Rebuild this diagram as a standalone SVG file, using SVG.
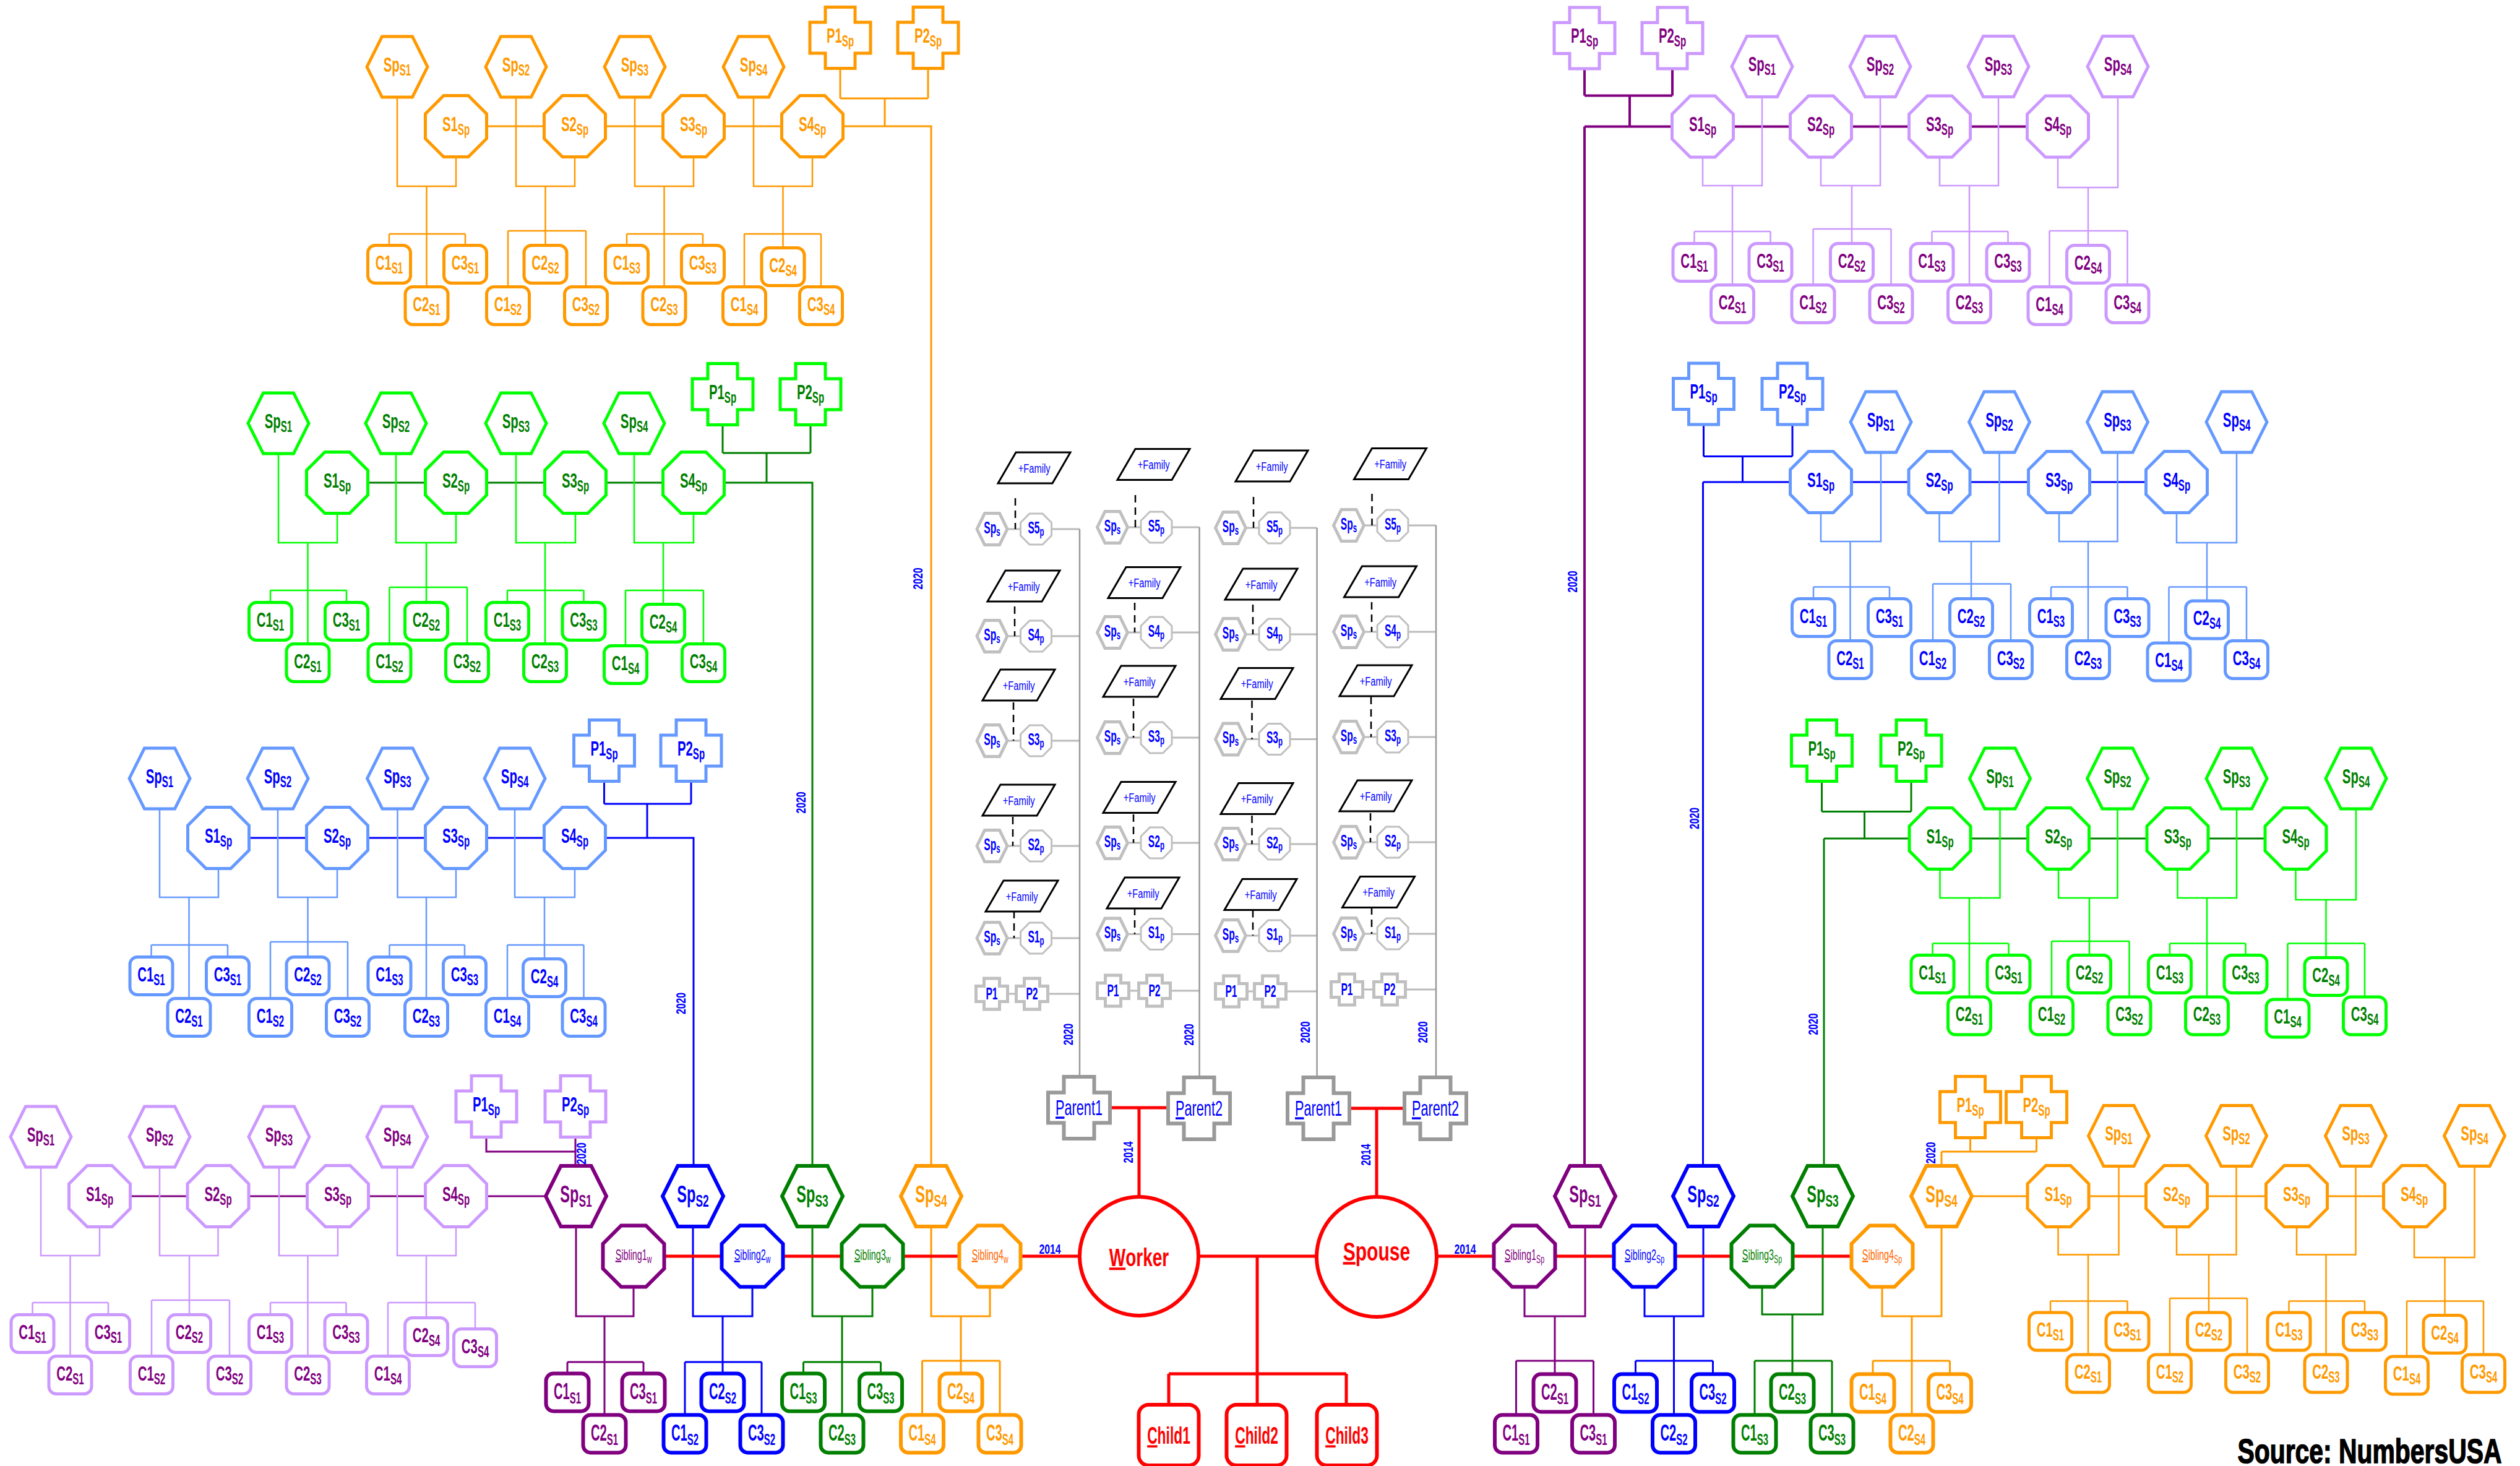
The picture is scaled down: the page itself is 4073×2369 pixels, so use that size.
<svg xmlns="http://www.w3.org/2000/svg" width="4073" height="2369" viewBox="0 0 4073 2369">
<style>
text{font-family:'Liberation Sans',Arial,sans-serif}
.k{font-weight:bold;text-anchor:middle;transform-box:fill-box;transform-origin:center;transform:scaleX(.62)}
.k1{font-size:34px;transform:scaleX(.6)}
.k2{font-size:38px}
.k3{font-size:36px;transform:scaleX(.56)}
.s{font-size:.74em}
.ks{font-size:24px;font-weight:normal;transform:scaleX(.6)}
.km{font-size:27px;transform:scaleX(.58)}
.kf{font-size:21px;font-weight:normal;transform:scaleX(.7)}
.kw{font-size:40px;transform:scaleX(.7)}
.kp{font-size:35px;font-weight:normal}
.kc{font-size:38px;transform:scaleX(.6)}
.src{font-size:56px;transform:scaleX(.73);stroke:#000;stroke-width:1.5}
.yr{font-weight:bold;font-size:22px;fill:#0000ff;text-anchor:middle}
.u{text-decoration:underline}
use{fill:#fff;stroke-width:5}
path{fill:none}
.o{stroke:#ff9900}.lp{stroke:#cc99ff}.dp{stroke:#800080}.lb{stroke:#6699ff}.db{stroke:#0000ff}.lg{stroke:#00ff00}.dg{stroke:#008000}.r{stroke:#ff0000}.g{stroke:#999999}.gl{stroke:#c0c0c0}.gm{stroke:#bbbbbb}.bk{stroke:#000}
.to{fill:#ff9900}.tp{fill:#800080}.tb{fill:#0000ff}.tg{fill:#008000}.tr{fill:#ff0000}.tq{fill:#ff6600}.tk{fill:#000}
.w2{stroke-width:2.5}.w3{stroke-width:3}.w4{stroke-width:4}.w5{stroke-width:5}.b{stroke-width:6}
.ds{stroke-dasharray:12 8}
</style>
<defs>
<polygon id="hx" points="-49,0 -24.5,-49 24.5,-49 49,0 24.5,49 -24.5,49"/>
<polygon id="oc" points="-20,-49.5 20,-49.5 49.5,-20 49.5,20 20,49.5 -20,49.5 -49.5,20 -49.5,-20"/>
<polygon id="cr" points="-24,-49.5 24,-49.5 24,-25 49,-25 49,25 24,25 24,49.5 -24,49.5 -24,25 -49,25 -49,-25 -24,-25"/>
<rect id="cb" x="-34.5" y="-30.5" width="69" height="61" rx="12"/>
<rect id="kb" x="-48.5" y="-49" width="97" height="98" rx="16"/>
<polygon id="cp" points="-24.5,-50 24.5,-50 24.5,-24.5 50,-24.5 50,24.5 24.5,24.5 24.5,50 -24.5,50 -24.5,24.5 -50,24.5 -50,-24.5 -24.5,-24.5"/>
<polygon id="hs" points="-24.5,0 -12,-25.5 12,-25.5 24.5,0 12,25.5 -12,25.5"/>
<polygon id="os" points="-10.5,-25 10.5,-25 25,-10.5 25,10.5 10.5,25 -10.5,25 -25,10.5 -25,-10.5"/>
<polygon id="cs" points="-12.5,-25 12.5,-25 12.5,-12.5 25.5,-12.5 25.5,12.5 12.5,12.5 12.5,25 -12.5,25 -12.5,12.5 -25.5,12.5 -25.5,-12.5 -12.5,-12.5"/>
<polygon id="pg" points="0,0 88,0 59,50 -29,50"/>
</defs>
<rect width="4073" height="2369" fill="#fff"/>
<g id="connectors">
<path class="o w3" d="M737,204H1505V1884M1358,110.5V159M1500,110.5V159M1358,159H1500M1430,159V204"/>
<path class="o w2" d="M642,157V301H737V254M689.5,301V463.5M629,378H752M629,378V396.5M752,378V396.5M834,157V301H929V254M881.5,301V396.5M821,373H947M821,373V463.5M947,373V463.5M1026,157V301H1121V254M1073.5,301V463.5M1013,378H1136M1013,378V396.5M1136,378V396.5M1218,157V301H1313V254M1265.5,301V400.5M1203,378H1327M1203,378V463.5M1327,378V463.5"/>
<path class="dg w3" d="M545,780H1313V1884M1168,686.5V732M1310,686.5V732M1168,732H1310M1239,732V780"/>
<path class="lg w2" d="M450,733V877H545V829.5M497.5,877V1040.5M437,954H560M437,954V973.5M560,954V973.5M640,733V877H737V829.5M689,877V973.5M629.5,949H755M629.5,949V1040.5M755,949V1040.5M834,733V877H930V829.5M881,877V1040.5M820,954H943.5M820,954V973.5M943.5,954V973.5M1025,733V877H1121V829.5M1072,877V976.5M1011,954H1137M1011,954V1043.5M1137,954V1040.5"/>
<path class="db w3" d="M353,1354H1121V1884M976.5,1262.5V1299M1117,1262.5V1299M976.5,1299H1117M1046,1299V1354"/>
<path class="lb w2" d="M258,1307V1450H353V1403.5M305.5,1450V1613.5M244.5,1527H368M244.5,1527V1546.5M368,1527V1546.5M449,1307V1450H545V1403.5M497.5,1450V1546.5M437,1522H562M437,1522V1613.5M562,1522V1613.5M642.5,1307V1450H737V1403.5M689,1450V1613.5M629.5,1527H751M629.5,1527V1546.5M751,1527V1546.5M832,1307V1450H929V1403.5M880,1450V1549.5M820,1527H943.5M820,1527V1613.5M943.5,1527V1613.5"/>
<path class="dp w3" d="M161,1933H882M786,1837.5V1861H930M930,1837.5V1884"/>
<path class="lp w2" d="M66,1886V2029H161V1982.5M113.5,2029V2191.5M52.5,2105H175M52.5,2105V2124.5M175,2105V2124.5M258,1886V2029H352.5V1982.5M306,2029V2124.5M245,2101H371M245,2101V2191.5M371,2101V2191.5M451,1886V2029H546V1982.5M497.5,2029V2191.5M437,2105H559.5M437,2105V2124.5M559.5,2105V2124.5M642,1886V2029H737V1982.5M689,2029V2129.5M627,2105H768M627,2105V2191.5M768,2105V2147.5"/>
<path class="dp w3" d="M931,1982V2127H1024V2079.5M977,2127V2286.5M917,2201H1040M917,2201V2219.5M1040,2201V2219.5"/>
<path class="db w3" d="M1120,1982V2127H1216V2079.5M1168,2127V2219.5M1107,2201H1231M1107,2201V2286.5M1231,2201V2286.5"/>
<path class="dg w3" d="M1313,1982V2127H1410V2079.5M1361,2127V2286.5M1298.5,2201H1423.5M1298.5,2201V2219.5M1423.5,2201V2219.5"/>
<path class="o w3" d="M1505,1982V2127H1600V2079.5M1553,2127V2219.5M1490.5,2199H1616M1490.5,2199V2286.5M1616,2199V2286.5"/>
<path class="gm w3" d="M1628,855H1745M1628,1028H1745M1628,1197H1745M1628,1367H1745M1628,1516H1745M1628.5,1606H1745M1822.5,852H1938.6M1822.5,1022H1938.6M1822.5,1192H1938.6M1822.5,1362H1938.6M1822.5,1509.5H1938.6M1824.5,1601H1938.6M2013.5,853H2128.6M2013.5,1025H2128.6M2013.5,1194.5H2128.6M2013.5,1364H2128.6M2013.5,1512H2128.6M2015.5,1602H2128.6M2204.5,849H2321M2204.5,1021H2321M2204.5,1191H2321M2204.5,1361H2321M2204.5,1509H2321M2202.5,1599H2321"/>
<path class="g w2" d="M1745,855V1741M1938.6,852V1741M2128.6,853V1741M2321,849V1741"/>
<path class="bk w2 ds" d="M1641,805V855M1640,980V1028M1638,1135V1197M1637,1320V1367M1639,1472V1516M1835,800V852M1834,974V1022M1832,1129V1192M1832,1316V1362M1834,1467V1509.5M2026,803V853M2025,977V1025M2023.5,1132V1194.5M2023.5,1318V1364M2025,1470.5V1512M2217.5,798V849M2217,973V1021M2216,1126V1191M2215,1314V1361M2217,1466V1509"/>
<path class="dp w4" d="M2561,204.5H3326M2561,204.5V1884M2561,111V154.5M2703,111V154.5M2561,154.5H2703M2634,154.5V204.5"/>
<path class="lp w2" d="M2848,156.5V300H2752V254M2800,300V460.5M2738.5,374H2861.5M2738.5,374V393.5M2861.5,374V393.5M3039,156.5V300H2943V254M2993,300V393.5M2930.5,370H3056.5M2930.5,370V460.5M3056.5,370V460.5M3230,156.5V300H3135V254M3183,300V460.5M3122.5,374H3245.5M3122.5,374V393.5M3245.5,374V393.5M3423,156.5V303H3326V254M3375,303V396.5M3312.5,373H3438.5M3312.5,373V463.5M3438.5,373V460.5"/>
<path class="db w3" d="M2752.5,779H3518M2752.5,779V1884M2753.5,686V737.5M2897,686V737.5M2753.5,737.5H2897M2816.5,737.5V779"/>
<path class="lb w2" d="M3040,731V875H2943V828.5M2990.5,875V1035.5M2931,948.5H3054M2931,948.5V967.5M3054,948.5V967.5M3231.5,731V875H3134.5V828.5M3186,875V967.5M3124,943.5H3250M3124,943.5V1035.5M3250,943.5V1035.5M3422.5,731V875H3328V828.5M3375,875V1035.5M3315,948.5H3438.5M3315,948.5V967.5M3438.5,948.5V967.5M3615,731V877H3518V828.5M3567,877V971M3505.5,948.5H3631M3505.5,948.5V1039M3631,948.5V1035.5"/>
<path class="dg w3" d="M2948,1355H3710.5M2948,1355V1884M2944.5,1262.5V1311.5M3089,1262.5V1311.5M2944.5,1311.5H3089M3013.5,1311.5V1355"/>
<path class="lg w2" d="M3232.5,1306.5V1451H3135.5V1404M3183,1451V1611M3123.5,1524.5H3246.5M3123.5,1524.5V1543.5M3246.5,1524.5V1543.5M3422.5,1306.5V1451H3327V1404M3377,1451V1543.5M3316,1521H3441.5M3316,1521V1611M3441.5,1521V1611M3615,1306.5V1451H3519.5V1404M3567,1451V1611M3507,1524.5H3629.5M3507,1524.5V1543.5M3629.5,1524.5V1543.5M3808,1306.5V1454H3710.5V1404M3759.5,1454V1547.5M3697.5,1524.5H3822M3697.5,1524.5V1615M3822,1524.5V1611"/>
<path class="o w3" d="M3186,1933H3902M3184.5,1838.5V1861M3291.5,1838.5V1861M3138,1861H3291.5M3138,1861V1884"/>
<path class="o w2" d="M3424.5,1884.5V2027.5H3326.5V1982.5M3375,2027.5V2189M3314,2102.5H3438.5M3314,2102.5V2121M3438.5,2102.5V2121M3614.5,1884.5V2027.5H3518V1982.5M3570,2027.5V2121M3507,2098H3632M3507,2098V2189M3632,2098V2189M3807.5,1884.5V2027.5H3712V1982.5M3759.5,2027.5V2189M3699.5,2102.5H3822M3699.5,2102.5V2121M3822,2102.5V2121M3999.5,1884.5V2032H3902V1982.5M3951.5,2032V2125.5M3890,2102.5H4014M3890,2102.5V2192M4014,2102.5V2189"/>
<path class="dp w3" d="M2562,1982V2127H2464V2079.5M2513,2127V2220.5M2450.5,2199H2575.5M2450.5,2199V2286.5M2575.5,2199V2286.5"/>
<path class="db w3" d="M2753,1982V2127H2658V2079.5M2705.5,2127V2286.5M2643.5,2199H2768.5M2643.5,2199V2220.5M2768.5,2199V2220.5"/>
<path class="dg w3" d="M2946,1982V2124H2848V2079.5M2897,2124V2220.5M2836,2199H2961M2836,2199V2286.5M2961,2199V2286.5"/>
<path class="o w3" d="M3138,1982V2127H3042V2079.5M3090,2127V2286.5M3027,2199H3151.5M3027,2199V2220.5M3151.5,2199V2220.5"/>
<path class="r w5" d="M1024,2030H1745M1937,2030H2128M2322,2030H3042M2032,2030V2220M1889,2220H2176M1889,2220V2270M2032,2220V2270M2176,2220V2270M1794,1790H1888M1841,1790V1932M2181,1791H2270M2225,1791V1934"/>
<text class="yr" transform="translate(1483,935) rotate(-90) scale(.72,1)" y="8">2020</text>
<text class="yr" transform="translate(1293.5,1297) rotate(-90) scale(.72,1)" y="8">2020</text>
<text class="yr" transform="translate(1100,1621.5) rotate(-90) scale(.72,1)" y="8">2020</text>
<text class="yr" transform="translate(939,1864) rotate(-90) scale(.72,1)" y="8">2020</text>
<text class="yr" transform="translate(2541,940) rotate(-90) scale(.72,1)" y="8">2020</text>
<text class="yr" transform="translate(2738,1322.5) rotate(-90) scale(.72,1)" y="8">2020</text>
<text class="yr" transform="translate(2929.5,1655) rotate(-90) scale(.72,1)" y="8">2020</text>
<text class="yr" transform="translate(3119.5,1863) rotate(-90) scale(.72,1)" y="8">2020</text>
<text class="yr" transform="translate(1725.5,1671.5) rotate(-90) scale(.72,1)" y="8">2020</text>
<text class="yr" transform="translate(1921,1672) rotate(-90) scale(.72,1)" y="8">2020</text>
<text class="yr" transform="translate(2109,1668) rotate(-90) scale(.72,1)" y="8">2020</text>
<text class="yr" transform="translate(2298.5,1668) rotate(-90) scale(.72,1)" y="8">2020</text>
<text class="yr" transform="translate(1822.5,1862) rotate(-90) scale(.72,1)" y="8">2014</text>
<text class="yr" transform="translate(2207,1866) rotate(-90) scale(.72,1)" y="8">2014</text>
<text class="yr" transform="translate(1697,2026) scale(.72,1)">2014</text>
<text class="yr" transform="translate(2368,2026) scale(.72,1)">2014</text>
</g>
<g id="left-orange">
<g id="lo-s1"><use href="#oc" x="737" y="204" class="o"/><text x="737" y="212" class="k k1 to">S1<tspan class="s" dy="6">Sp</tspan></text></g>
<g id="lo-s2"><use href="#oc" x="929" y="204" class="o"/><text x="929" y="212" class="k k1 to">S2<tspan class="s" dy="6">Sp</tspan></text></g>
<g id="lo-s3"><use href="#oc" x="1121" y="204" class="o"/><text x="1121" y="212" class="k k1 to">S3<tspan class="s" dy="6">Sp</tspan></text></g>
<g id="lo-s4"><use href="#oc" x="1313" y="204" class="o"/><text x="1313" y="212" class="k k1 to">S4<tspan class="s" dy="6">Sp</tspan></text></g>
<g id="lo-sp1"><use href="#hx" x="642" y="108" class="o"/><text x="642" y="116" class="k k1 to">Sp<tspan class="s" dy="6">S1</tspan></text></g>
<g id="lo-sp2"><use href="#hx" x="834" y="108" class="o"/><text x="834" y="116" class="k k1 to">Sp<tspan class="s" dy="6">S2</tspan></text></g>
<g id="lo-sp3"><use href="#hx" x="1026" y="108" class="o"/><text x="1026" y="116" class="k k1 to">Sp<tspan class="s" dy="6">S3</tspan></text></g>
<g id="lo-sp4"><use href="#hx" x="1218" y="108" class="o"/><text x="1218" y="116" class="k k1 to">Sp<tspan class="s" dy="6">S4</tspan></text></g>
<g id="lo-p1"><use href="#cr" x="1358" y="61" class="o"/><text x="1358" y="69" class="k k1 to">P1<tspan class="s" dy="6">Sp</tspan></text></g>
<g id="lo-p2"><use href="#cr" x="1500" y="61" class="o"/><text x="1500" y="69" class="k k1 to">P2<tspan class="s" dy="6">Sp</tspan></text></g>
<g id="lo-c1s1"><use href="#cb" x="629" y="427" class="o"/><text x="629" y="436" class="k k1 to">C1<tspan class="s" dy="6">S1</tspan></text></g>
<g id="lo-c2s1"><use href="#cb" x="689.5" y="494" class="o"/><text x="689.5" y="503" class="k k1 to">C2<tspan class="s" dy="6">S1</tspan></text></g>
<g id="lo-c3s1"><use href="#cb" x="752" y="427" class="o"/><text x="752" y="436" class="k k1 to">C3<tspan class="s" dy="6">S1</tspan></text></g>
<g id="lo-c1s2"><use href="#cb" x="821" y="494" class="o"/><text x="821" y="503" class="k k1 to">C1<tspan class="s" dy="6">S2</tspan></text></g>
<g id="lo-c2s2"><use href="#cb" x="881.5" y="427" class="o"/><text x="881.5" y="436" class="k k1 to">C2<tspan class="s" dy="6">S2</tspan></text></g>
<g id="lo-c3s2"><use href="#cb" x="947" y="494" class="o"/><text x="947" y="503" class="k k1 to">C3<tspan class="s" dy="6">S2</tspan></text></g>
<g id="lo-c1s3"><use href="#cb" x="1013" y="427" class="o"/><text x="1013" y="436" class="k k1 to">C1<tspan class="s" dy="6">S3</tspan></text></g>
<g id="lo-c2s3"><use href="#cb" x="1073.5" y="494" class="o"/><text x="1073.5" y="503" class="k k1 to">C2<tspan class="s" dy="6">S3</tspan></text></g>
<g id="lo-c3s3"><use href="#cb" x="1136" y="427" class="o"/><text x="1136" y="436" class="k k1 to">C3<tspan class="s" dy="6">S3</tspan></text></g>
<g id="lo-c1s4"><use href="#cb" x="1203" y="494" class="o"/><text x="1203" y="503" class="k k1 to">C1<tspan class="s" dy="6">S4</tspan></text></g>
<g id="lo-c2s4"><use href="#cb" x="1265.5" y="431" class="o"/><text x="1265.5" y="440" class="k k1 to">C2<tspan class="s" dy="6">S4</tspan></text></g>
<g id="lo-c3s4"><use href="#cb" x="1327" y="494" class="o"/><text x="1327" y="503" class="k k1 to">C3<tspan class="s" dy="6">S4</tspan></text></g>
</g>
<g id="left-green">
<g id="lg-s1"><use href="#oc" x="545" y="780" class="lg"/><text x="545" y="788" class="k k1 tg">S1<tspan class="s" dy="6">Sp</tspan></text></g>
<g id="lg-s2"><use href="#oc" x="737" y="780" class="lg"/><text x="737" y="788" class="k k1 tg">S2<tspan class="s" dy="6">Sp</tspan></text></g>
<g id="lg-s3"><use href="#oc" x="930" y="780" class="lg"/><text x="930" y="788" class="k k1 tg">S3<tspan class="s" dy="6">Sp</tspan></text></g>
<g id="lg-s4"><use href="#oc" x="1121" y="780" class="lg"/><text x="1121" y="788" class="k k1 tg">S4<tspan class="s" dy="6">Sp</tspan></text></g>
<g id="lg-sp1"><use href="#hx" x="450" y="684" class="lg"/><text x="450" y="692" class="k k1 tg">Sp<tspan class="s" dy="6">S1</tspan></text></g>
<g id="lg-sp2"><use href="#hx" x="640" y="684" class="lg"/><text x="640" y="692" class="k k1 tg">Sp<tspan class="s" dy="6">S2</tspan></text></g>
<g id="lg-sp3"><use href="#hx" x="834" y="684" class="lg"/><text x="834" y="692" class="k k1 tg">Sp<tspan class="s" dy="6">S3</tspan></text></g>
<g id="lg-sp4"><use href="#hx" x="1025" y="684" class="lg"/><text x="1025" y="692" class="k k1 tg">Sp<tspan class="s" dy="6">S4</tspan></text></g>
<g id="lg-p1"><use href="#cr" x="1168" y="637" class="lg"/><text x="1168" y="645" class="k k1 tg">P1<tspan class="s" dy="6">Sp</tspan></text></g>
<g id="lg-p2"><use href="#cr" x="1310" y="637" class="lg"/><text x="1310" y="645" class="k k1 tg">P2<tspan class="s" dy="6">Sp</tspan></text></g>
<g id="lg-c1s1"><use href="#cb" x="437" y="1004" class="lg"/><text x="437" y="1013" class="k k1 tg">C1<tspan class="s" dy="6">S1</tspan></text></g>
<g id="lg-c2s1"><use href="#cb" x="497.5" y="1071" class="lg"/><text x="497.5" y="1080" class="k k1 tg">C2<tspan class="s" dy="6">S1</tspan></text></g>
<g id="lg-c3s1"><use href="#cb" x="560" y="1004" class="lg"/><text x="560" y="1013" class="k k1 tg">C3<tspan class="s" dy="6">S1</tspan></text></g>
<g id="lg-c1s2"><use href="#cb" x="629.5" y="1071" class="lg"/><text x="629.5" y="1080" class="k k1 tg">C1<tspan class="s" dy="6">S2</tspan></text></g>
<g id="lg-c2s2"><use href="#cb" x="689" y="1004" class="lg"/><text x="689" y="1013" class="k k1 tg">C2<tspan class="s" dy="6">S2</tspan></text></g>
<g id="lg-c3s2"><use href="#cb" x="755" y="1071" class="lg"/><text x="755" y="1080" class="k k1 tg">C3<tspan class="s" dy="6">S2</tspan></text></g>
<g id="lg-c1s3"><use href="#cb" x="820" y="1004" class="lg"/><text x="820" y="1013" class="k k1 tg">C1<tspan class="s" dy="6">S3</tspan></text></g>
<g id="lg-c2s3"><use href="#cb" x="881" y="1071" class="lg"/><text x="881" y="1080" class="k k1 tg">C2<tspan class="s" dy="6">S3</tspan></text></g>
<g id="lg-c3s3"><use href="#cb" x="943.5" y="1004" class="lg"/><text x="943.5" y="1013" class="k k1 tg">C3<tspan class="s" dy="6">S3</tspan></text></g>
<g id="lg-c1s4"><use href="#cb" x="1011" y="1074" class="lg"/><text x="1011" y="1083" class="k k1 tg">C1<tspan class="s" dy="6">S4</tspan></text></g>
<g id="lg-c2s4"><use href="#cb" x="1072" y="1007" class="lg"/><text x="1072" y="1016" class="k k1 tg">C2<tspan class="s" dy="6">S4</tspan></text></g>
<g id="lg-c3s4"><use href="#cb" x="1137" y="1071" class="lg"/><text x="1137" y="1080" class="k k1 tg">C3<tspan class="s" dy="6">S4</tspan></text></g>
</g>
<g id="left-blue">
<g id="lb-s1"><use href="#oc" x="353" y="1354" class="lb"/><text x="353" y="1362" class="k k1 tb">S1<tspan class="s" dy="6">Sp</tspan></text></g>
<g id="lb-s2"><use href="#oc" x="545" y="1354" class="lb"/><text x="545" y="1362" class="k k1 tb">S2<tspan class="s" dy="6">Sp</tspan></text></g>
<g id="lb-s3"><use href="#oc" x="737" y="1354" class="lb"/><text x="737" y="1362" class="k k1 tb">S3<tspan class="s" dy="6">Sp</tspan></text></g>
<g id="lb-s4"><use href="#oc" x="929" y="1354" class="lb"/><text x="929" y="1362" class="k k1 tb">S4<tspan class="s" dy="6">Sp</tspan></text></g>
<g id="lb-sp1"><use href="#hx" x="258" y="1258" class="lb"/><text x="258" y="1266" class="k k1 tb">Sp<tspan class="s" dy="6">S1</tspan></text></g>
<g id="lb-sp2"><use href="#hx" x="449" y="1258" class="lb"/><text x="449" y="1266" class="k k1 tb">Sp<tspan class="s" dy="6">S2</tspan></text></g>
<g id="lb-sp3"><use href="#hx" x="642.5" y="1258" class="lb"/><text x="642.5" y="1266" class="k k1 tb">Sp<tspan class="s" dy="6">S3</tspan></text></g>
<g id="lb-sp4"><use href="#hx" x="832" y="1258" class="lb"/><text x="832" y="1266" class="k k1 tb">Sp<tspan class="s" dy="6">S4</tspan></text></g>
<g id="lb-p1"><use href="#cr" x="976.5" y="1213" class="lb"/><text x="976.5" y="1221" class="k k1 tb">P1<tspan class="s" dy="6">Sp</tspan></text></g>
<g id="lb-p2"><use href="#cr" x="1117" y="1213" class="lb"/><text x="1117" y="1221" class="k k1 tb">P2<tspan class="s" dy="6">Sp</tspan></text></g>
<g id="lb-c1s1"><use href="#cb" x="244.5" y="1577" class="lb"/><text x="244.5" y="1586" class="k k1 tb">C1<tspan class="s" dy="6">S1</tspan></text></g>
<g id="lb-c2s1"><use href="#cb" x="305.5" y="1644" class="lb"/><text x="305.5" y="1653" class="k k1 tb">C2<tspan class="s" dy="6">S1</tspan></text></g>
<g id="lb-c3s1"><use href="#cb" x="368" y="1577" class="lb"/><text x="368" y="1586" class="k k1 tb">C3<tspan class="s" dy="6">S1</tspan></text></g>
<g id="lb-c1s2"><use href="#cb" x="437" y="1644" class="lb"/><text x="437" y="1653" class="k k1 tb">C1<tspan class="s" dy="6">S2</tspan></text></g>
<g id="lb-c2s2"><use href="#cb" x="497.5" y="1577" class="lb"/><text x="497.5" y="1586" class="k k1 tb">C2<tspan class="s" dy="6">S2</tspan></text></g>
<g id="lb-c3s2"><use href="#cb" x="562" y="1644" class="lb"/><text x="562" y="1653" class="k k1 tb">C3<tspan class="s" dy="6">S2</tspan></text></g>
<g id="lb-c1s3"><use href="#cb" x="629.5" y="1577" class="lb"/><text x="629.5" y="1586" class="k k1 tb">C1<tspan class="s" dy="6">S3</tspan></text></g>
<g id="lb-c2s3"><use href="#cb" x="689" y="1644" class="lb"/><text x="689" y="1653" class="k k1 tb">C2<tspan class="s" dy="6">S3</tspan></text></g>
<g id="lb-c3s3"><use href="#cb" x="751" y="1577" class="lb"/><text x="751" y="1586" class="k k1 tb">C3<tspan class="s" dy="6">S3</tspan></text></g>
<g id="lb-c1s4"><use href="#cb" x="820" y="1644" class="lb"/><text x="820" y="1653" class="k k1 tb">C1<tspan class="s" dy="6">S4</tspan></text></g>
<g id="lb-c2s4"><use href="#cb" x="880" y="1580" class="lb"/><text x="880" y="1589" class="k k1 tb">C2<tspan class="s" dy="6">S4</tspan></text></g>
<g id="lb-c3s4"><use href="#cb" x="943.5" y="1644" class="lb"/><text x="943.5" y="1653" class="k k1 tb">C3<tspan class="s" dy="6">S4</tspan></text></g>
</g>
<g id="left-purple">
<g id="lp-s1"><use href="#oc" x="161" y="1933" class="lp"/><text x="161" y="1941" class="k k1 tp">S1<tspan class="s" dy="6">Sp</tspan></text></g>
<g id="lp-s2"><use href="#oc" x="352.5" y="1933" class="lp"/><text x="352.5" y="1941" class="k k1 tp">S2<tspan class="s" dy="6">Sp</tspan></text></g>
<g id="lp-s3"><use href="#oc" x="546" y="1933" class="lp"/><text x="546" y="1941" class="k k1 tp">S3<tspan class="s" dy="6">Sp</tspan></text></g>
<g id="lp-s4"><use href="#oc" x="737" y="1933" class="lp"/><text x="737" y="1941" class="k k1 tp">S4<tspan class="s" dy="6">Sp</tspan></text></g>
<g id="lp-sp1"><use href="#hx" x="66" y="1837" class="lp"/><text x="66" y="1845" class="k k1 tp">Sp<tspan class="s" dy="6">S1</tspan></text></g>
<g id="lp-sp2"><use href="#hx" x="258" y="1837" class="lp"/><text x="258" y="1845" class="k k1 tp">Sp<tspan class="s" dy="6">S2</tspan></text></g>
<g id="lp-sp3"><use href="#hx" x="451" y="1837" class="lp"/><text x="451" y="1845" class="k k1 tp">Sp<tspan class="s" dy="6">S3</tspan></text></g>
<g id="lp-sp4"><use href="#hx" x="642" y="1837" class="lp"/><text x="642" y="1845" class="k k1 tp">Sp<tspan class="s" dy="6">S4</tspan></text></g>
<g id="lp-p1"><use href="#cr" x="786" y="1788" class="lp"/><text x="786" y="1796" class="k k1 tb">P1<tspan class="s" dy="6">Sp</tspan></text></g>
<g id="lp-p2"><use href="#cr" x="930" y="1788" class="lp"/><text x="930" y="1796" class="k k1 tb">P2<tspan class="s" dy="6">Sp</tspan></text></g>
<g id="lp-c1s1"><use href="#cb" x="52.5" y="2155" class="lp"/><text x="52.5" y="2164" class="k k1 tp">C1<tspan class="s" dy="6">S1</tspan></text></g>
<g id="lp-c2s1"><use href="#cb" x="113.5" y="2222" class="lp"/><text x="113.5" y="2231" class="k k1 tp">C2<tspan class="s" dy="6">S1</tspan></text></g>
<g id="lp-c3s1"><use href="#cb" x="175" y="2155" class="lp"/><text x="175" y="2164" class="k k1 tp">C3<tspan class="s" dy="6">S1</tspan></text></g>
<g id="lp-c1s2"><use href="#cb" x="245" y="2222" class="lp"/><text x="245" y="2231" class="k k1 tp">C1<tspan class="s" dy="6">S2</tspan></text></g>
<g id="lp-c2s2"><use href="#cb" x="306" y="2155" class="lp"/><text x="306" y="2164" class="k k1 tp">C2<tspan class="s" dy="6">S2</tspan></text></g>
<g id="lp-c3s2"><use href="#cb" x="371" y="2222" class="lp"/><text x="371" y="2231" class="k k1 tp">C3<tspan class="s" dy="6">S2</tspan></text></g>
<g id="lp-c1s3"><use href="#cb" x="437" y="2155" class="lp"/><text x="437" y="2164" class="k k1 tp">C1<tspan class="s" dy="6">S3</tspan></text></g>
<g id="lp-c2s3"><use href="#cb" x="497.5" y="2222" class="lp"/><text x="497.5" y="2231" class="k k1 tp">C2<tspan class="s" dy="6">S3</tspan></text></g>
<g id="lp-c3s3"><use href="#cb" x="559.5" y="2155" class="lp"/><text x="559.5" y="2164" class="k k1 tp">C3<tspan class="s" dy="6">S3</tspan></text></g>
<g id="lp-c1s4"><use href="#cb" x="627" y="2222" class="lp"/><text x="627" y="2231" class="k k1 tp">C1<tspan class="s" dy="6">S4</tspan></text></g>
<g id="lp-c2s4"><use href="#cb" x="689" y="2160" class="lp"/><text x="689" y="2169" class="k k1 tp">C2<tspan class="s" dy="6">S4</tspan></text></g>
<g id="lp-c3s4"><use href="#cb" x="768" y="2178" class="lp"/><text x="768" y="2187" class="k k1 tp">C3<tspan class="s" dy="6">S4</tspan></text></g>
</g>
<g id="worker-siblings">
<g id="w-sps1"><use href="#hx" x="931" y="1933" class="dp b"/><text x="931" y="1943" class="k k2 tp">Sp<tspan class="s" dy="7">S1</tspan></text></g>
<g id="w-sps2"><use href="#hx" x="1120" y="1933" class="db b"/><text x="1120" y="1943" class="k k2 tb">Sp<tspan class="s" dy="7">S2</tspan></text></g>
<g id="w-sps3"><use href="#hx" x="1313" y="1933" class="dg b"/><text x="1313" y="1943" class="k k2 tg">Sp<tspan class="s" dy="7">S3</tspan></text></g>
<g id="w-sps4"><use href="#hx" x="1505" y="1933" class="o b"/><text x="1505" y="1943" class="k k2 to">Sp<tspan class="s" dy="7">S4</tspan></text></g>
<g id="sibling1w"><use href="#oc" x="1024" y="2030" class="dp b"/><text x="1024" y="2036" class="k ks tp"><tspan class="u">S</tspan>ibling1<tspan class="s" dy="5">w</tspan></text></g>
<g id="sibling2w"><use href="#oc" x="1216" y="2030" class="db b"/><text x="1216" y="2036" class="k ks tb"><tspan class="u">S</tspan>ibling2<tspan class="s" dy="5">w</tspan></text></g>
<g id="sibling3w"><use href="#oc" x="1410" y="2030" class="dg b"/><text x="1410" y="2036" class="k ks tg"><tspan class="u">S</tspan>ibling3<tspan class="s" dy="5">w</tspan></text></g>
<g id="sibling4w"><use href="#oc" x="1600" y="2030" class="o b"/><text x="1600" y="2036" class="k ks tq"><tspan class="u">S</tspan>ibling4<tspan class="s" dy="5">w</tspan></text></g>
<g id="w-c1s1"><use href="#cb" x="917" y="2250" class="dp b"/><text x="917" y="2261" class="k k3 tp">C1<tspan class="s" dy="7">S1</tspan></text></g>
<g id="w-c2s1"><use href="#cb" x="977" y="2317" class="dp b"/><text x="977" y="2328" class="k k3 tp">C2<tspan class="s" dy="7">S1</tspan></text></g>
<g id="w-c3s1"><use href="#cb" x="1040" y="2250" class="dp b"/><text x="1040" y="2261" class="k k3 tp">C3<tspan class="s" dy="7">S1</tspan></text></g>
<g id="w-c1s2"><use href="#cb" x="1107" y="2317" class="db b"/><text x="1107" y="2328" class="k k3 tb">C1<tspan class="s" dy="7">S2</tspan></text></g>
<g id="w-c2s2"><use href="#cb" x="1168" y="2250" class="db b"/><text x="1168" y="2261" class="k k3 tb">C2<tspan class="s" dy="7">S2</tspan></text></g>
<g id="w-c3s2"><use href="#cb" x="1231" y="2317" class="db b"/><text x="1231" y="2328" class="k k3 tb">C3<tspan class="s" dy="7">S2</tspan></text></g>
<g id="w-c1s3"><use href="#cb" x="1298.5" y="2250" class="dg b"/><text x="1298.5" y="2261" class="k k3 tg">C1<tspan class="s" dy="7">S3</tspan></text></g>
<g id="w-c2s3"><use href="#cb" x="1361" y="2317" class="dg b"/><text x="1361" y="2328" class="k k3 tg">C2<tspan class="s" dy="7">S3</tspan></text></g>
<g id="w-c3s3"><use href="#cb" x="1423.5" y="2250" class="dg b"/><text x="1423.5" y="2261" class="k k3 tg">C3<tspan class="s" dy="7">S3</tspan></text></g>
<g id="w-c1s4"><use href="#cb" x="1490.5" y="2317" class="o b"/><text x="1490.5" y="2328" class="k k3 to">C1<tspan class="s" dy="7">S4</tspan></text></g>
<g id="w-c2s4"><use href="#cb" x="1553" y="2250" class="o b"/><text x="1553" y="2261" class="k k3 to">C2<tspan class="s" dy="7">S4</tspan></text></g>
<g id="w-c3s4"><use href="#cb" x="1616" y="2317" class="o b"/><text x="1616" y="2328" class="k k3 to">C3<tspan class="s" dy="7">S4</tspan></text></g>
</g>
<g id="core">
<g id="worker"><circle cx="1841" cy="2030" r="96" class="r" fill="#fff" stroke-width="6"/><text x="1841" y="2046" class="k kw tr"><tspan class="u">W</tspan>orker</text></g>
<g id="spouse"><circle cx="2225" cy="2031" r="97" class="r" fill="#fff" stroke-width="6"/><text x="2225" y="2037" class="k kw tr" style="font-size:43px"><tspan class="u">S</tspan>pouse</text></g>
<g id="child1"><use href="#kb" x="1889" y="2319" class="r b"/><text x="1889" y="2333" class="k kc tr"><tspan class="u">C</tspan>hild1</text></g>
<g id="child2"><use href="#kb" x="2031" y="2319" class="r b"/><text x="2031" y="2333" class="k kc tr"><tspan class="u">C</tspan>hild2</text></g>
<g id="child3"><use href="#kb" x="2177" y="2319" class="r b"/><text x="2177" y="2333" class="k kc tr"><tspan class="u">C</tspan>hild3</text></g>
<g id="w-parent1"><use href="#cp" x="1744" y="1790" class="g b"/><text x="1744" y="1802" class="k kp tb"><tspan class="u">P</tspan>arent1</text></g>
<g id="w-parent2"><use href="#cp" x="1938" y="1791" class="g b"/><text x="1938" y="1803" class="k kp tb"><tspan class="u">P</tspan>arent2</text></g>
<g id="s-parent1"><use href="#cp" x="2131" y="1791" class="g b"/><text x="2131" y="1803" class="k kp tb"><tspan class="u">P</tspan>arent1</text></g>
<g id="s-parent2"><use href="#cp" x="2320" y="1791" class="g b"/><text x="2320" y="1803" class="k kp tb"><tspan class="u">P</tspan>arent2</text></g>
</g>
<g id="parents-families">
<g id="m1-f5"><use href="#pg" x="1642" y="731" class="bk w3"/><text x="1671.5" y="764" class="k kf tb">+Family</text></g>
<g id="m1-f4"><use href="#pg" x="1625" y="922" class="bk w3"/><text x="1654.5" y="955" class="k kf tb">+Family</text></g>
<g id="m1-f3"><use href="#pg" x="1617" y="1082" class="bk w3"/><text x="1646.5" y="1115" class="k kf tb">+Family</text></g>
<g id="m1-f2"><use href="#pg" x="1617" y="1268" class="bk w3"/><text x="1646.5" y="1301" class="k kf tb">+Family</text></g>
<g id="m1-f1"><use href="#pg" x="1622" y="1423" class="bk w3"/><text x="1651.5" y="1456" class="k kf tb">+Family</text></g>
<g id="m1-sp5"><use href="#hs" x="1603.5" y="855" class="gl"/><text x="1603.5" y="862" class="k km tb">Sp<tspan class="s" dy="4">s</tspan></text></g>
<g id="m1-sp4"><use href="#hs" x="1603.5" y="1028" class="gl"/><text x="1603.5" y="1035" class="k km tb">Sp<tspan class="s" dy="4">s</tspan></text></g>
<g id="m1-sp3"><use href="#hs" x="1603.5" y="1197" class="gl"/><text x="1603.5" y="1204" class="k km tb">Sp<tspan class="s" dy="4">s</tspan></text></g>
<g id="m1-sp2"><use href="#hs" x="1603.5" y="1367" class="gl"/><text x="1603.5" y="1374" class="k km tb">Sp<tspan class="s" dy="4">s</tspan></text></g>
<g id="m1-sp1"><use href="#hs" x="1603.5" y="1516" class="gl"/><text x="1603.5" y="1523" class="k km tb">Sp<tspan class="s" dy="4">s</tspan></text></g>
<g id="m1-s5"><use href="#os" x="1674.5" y="855" class="gl w3"/><text x="1674.5" y="862" class="k km tb">S5<tspan class="s" dy="4">p</tspan></text></g>
<g id="m1-s4"><use href="#os" x="1674.5" y="1028" class="gl w3"/><text x="1674.5" y="1035" class="k km tb">S4<tspan class="s" dy="4">p</tspan></text></g>
<g id="m1-s3"><use href="#os" x="1674.5" y="1197" class="gl w3"/><text x="1674.5" y="1204" class="k km tb">S3<tspan class="s" dy="4">p</tspan></text></g>
<g id="m1-s2"><use href="#os" x="1674.5" y="1367" class="gl w3"/><text x="1674.5" y="1374" class="k km tb">S2<tspan class="s" dy="4">p</tspan></text></g>
<g id="m1-s1"><use href="#os" x="1674.5" y="1516" class="gl w3"/><text x="1674.5" y="1523" class="k km tb">S1<tspan class="s" dy="4">p</tspan></text></g>
<g id="m1-p1"><use href="#cs" x="1603" y="1606" class="gl"/><text x="1603" y="1615" class="k km tb">P1</text></g>
<g id="m1-p2"><use href="#cs" x="1668" y="1606" class="gl"/><text x="1668" y="1615" class="k km tb">P2</text></g>
<g id="m2-f5"><use href="#pg" x="1835" y="725.5" class="bk w3"/><text x="1864.5" y="758.5" class="k kf tb">+Family</text></g>
<g id="m2-f4"><use href="#pg" x="1820" y="916.5" class="bk w3"/><text x="1849.5" y="949.5" class="k kf tb">+Family</text></g>
<g id="m2-f3"><use href="#pg" x="1812" y="1076" class="bk w3"/><text x="1841.5" y="1109" class="k kf tb">+Family</text></g>
<g id="m2-f2"><use href="#pg" x="1812" y="1263.5" class="bk w3"/><text x="1841.5" y="1296.5" class="k kf tb">+Family</text></g>
<g id="m2-f1"><use href="#pg" x="1818" y="1418" class="bk w3"/><text x="1847.5" y="1451" class="k kf tb">+Family</text></g>
<g id="m2-sp5"><use href="#hs" x="1798" y="852" class="gl"/><text x="1798" y="859" class="k km tb">Sp<tspan class="s" dy="4">s</tspan></text></g>
<g id="m2-sp4"><use href="#hs" x="1798" y="1022" class="gl"/><text x="1798" y="1029" class="k km tb">Sp<tspan class="s" dy="4">s</tspan></text></g>
<g id="m2-sp3"><use href="#hs" x="1798" y="1192" class="gl"/><text x="1798" y="1199" class="k km tb">Sp<tspan class="s" dy="4">s</tspan></text></g>
<g id="m2-sp2"><use href="#hs" x="1798" y="1362" class="gl"/><text x="1798" y="1369" class="k km tb">Sp<tspan class="s" dy="4">s</tspan></text></g>
<g id="m2-sp1"><use href="#hs" x="1798" y="1509.5" class="gl"/><text x="1798" y="1516.5" class="k km tb">Sp<tspan class="s" dy="4">s</tspan></text></g>
<g id="m2-s5"><use href="#os" x="1869" y="852" class="gl w3"/><text x="1869" y="859" class="k km tb">S5<tspan class="s" dy="4">p</tspan></text></g>
<g id="m2-s4"><use href="#os" x="1869" y="1022" class="gl w3"/><text x="1869" y="1029" class="k km tb">S4<tspan class="s" dy="4">p</tspan></text></g>
<g id="m2-s3"><use href="#os" x="1869" y="1192" class="gl w3"/><text x="1869" y="1199" class="k km tb">S3<tspan class="s" dy="4">p</tspan></text></g>
<g id="m2-s2"><use href="#os" x="1869" y="1362" class="gl w3"/><text x="1869" y="1369" class="k km tb">S2<tspan class="s" dy="4">p</tspan></text></g>
<g id="m2-s1"><use href="#os" x="1869" y="1509.5" class="gl w3"/><text x="1869" y="1516.5" class="k km tb">S1<tspan class="s" dy="4">p</tspan></text></g>
<g id="m2-p1"><use href="#cs" x="1799" y="1601" class="gl"/><text x="1799" y="1610" class="k km tb">P1</text></g>
<g id="m2-p2"><use href="#cs" x="1866" y="1601" class="gl"/><text x="1866" y="1610" class="k km tb">P2</text></g>
<g id="m3-f5"><use href="#pg" x="2026" y="728" class="bk w3"/><text x="2055.5" y="761" class="k kf tb">+Family</text></g>
<g id="m3-f4"><use href="#pg" x="2009" y="919" class="bk w3"/><text x="2038.5" y="952" class="k kf tb">+Family</text></g>
<g id="m3-f3"><use href="#pg" x="2002" y="1079.5" class="bk w3"/><text x="2031.5" y="1112.5" class="k kf tb">+Family</text></g>
<g id="m3-f2"><use href="#pg" x="2002" y="1265.5" class="bk w3"/><text x="2031.5" y="1298.5" class="k kf tb">+Family</text></g>
<g id="m3-f1"><use href="#pg" x="2008" y="1420.5" class="bk w3"/><text x="2037.5" y="1453.5" class="k kf tb">+Family</text></g>
<g id="m3-sp5"><use href="#hs" x="1989" y="853" class="gl"/><text x="1989" y="860" class="k km tb">Sp<tspan class="s" dy="4">s</tspan></text></g>
<g id="m3-sp4"><use href="#hs" x="1989" y="1025" class="gl"/><text x="1989" y="1032" class="k km tb">Sp<tspan class="s" dy="4">s</tspan></text></g>
<g id="m3-sp3"><use href="#hs" x="1989" y="1194.5" class="gl"/><text x="1989" y="1201.5" class="k km tb">Sp<tspan class="s" dy="4">s</tspan></text></g>
<g id="m3-sp2"><use href="#hs" x="1989" y="1364" class="gl"/><text x="1989" y="1371" class="k km tb">Sp<tspan class="s" dy="4">s</tspan></text></g>
<g id="m3-sp1"><use href="#hs" x="1989" y="1512" class="gl"/><text x="1989" y="1519" class="k km tb">Sp<tspan class="s" dy="4">s</tspan></text></g>
<g id="m3-s5"><use href="#os" x="2060" y="853" class="gl w3"/><text x="2060" y="860" class="k km tb">S5<tspan class="s" dy="4">p</tspan></text></g>
<g id="m3-s4"><use href="#os" x="2060" y="1025" class="gl w3"/><text x="2060" y="1032" class="k km tb">S4<tspan class="s" dy="4">p</tspan></text></g>
<g id="m3-s3"><use href="#os" x="2060" y="1194.5" class="gl w3"/><text x="2060" y="1201.5" class="k km tb">S3<tspan class="s" dy="4">p</tspan></text></g>
<g id="m3-s2"><use href="#os" x="2060" y="1364" class="gl w3"/><text x="2060" y="1371" class="k km tb">S2<tspan class="s" dy="4">p</tspan></text></g>
<g id="m3-s1"><use href="#os" x="2060" y="1512" class="gl w3"/><text x="2060" y="1519" class="k km tb">S1<tspan class="s" dy="4">p</tspan></text></g>
<g id="m3-p1"><use href="#cs" x="1990" y="1602" class="gl"/><text x="1990" y="1611" class="k km tb">P1</text></g>
<g id="m3-p2"><use href="#cs" x="2053" y="1602" class="gl"/><text x="2053" y="1611" class="k km tb">P2</text></g>
<g id="m4-f5"><use href="#pg" x="2217.5" y="724.5" class="bk w3"/><text x="2247" y="757.5" class="k kf tb">+Family</text></g>
<g id="m4-f4"><use href="#pg" x="2201.5" y="915" class="bk w3"/><text x="2231" y="948" class="k kf tb">+Family</text></g>
<g id="m4-f3"><use href="#pg" x="2194" y="1075" class="bk w3"/><text x="2223.5" y="1108" class="k kf tb">+Family</text></g>
<g id="m4-f2"><use href="#pg" x="2194" y="1261" class="bk w3"/><text x="2223.5" y="1294" class="k kf tb">+Family</text></g>
<g id="m4-f1"><use href="#pg" x="2198.5" y="1416.5" class="bk w3"/><text x="2228" y="1449.5" class="k kf tb">+Family</text></g>
<g id="m4-sp5"><use href="#hs" x="2180" y="849" class="gl"/><text x="2180" y="856" class="k km tb">Sp<tspan class="s" dy="4">s</tspan></text></g>
<g id="m4-sp4"><use href="#hs" x="2180" y="1021" class="gl"/><text x="2180" y="1028" class="k km tb">Sp<tspan class="s" dy="4">s</tspan></text></g>
<g id="m4-sp3"><use href="#hs" x="2180" y="1191" class="gl"/><text x="2180" y="1198" class="k km tb">Sp<tspan class="s" dy="4">s</tspan></text></g>
<g id="m4-sp2"><use href="#hs" x="2180" y="1361" class="gl"/><text x="2180" y="1368" class="k km tb">Sp<tspan class="s" dy="4">s</tspan></text></g>
<g id="m4-sp1"><use href="#hs" x="2180" y="1509" class="gl"/><text x="2180" y="1516" class="k km tb">Sp<tspan class="s" dy="4">s</tspan></text></g>
<g id="m4-s5"><use href="#os" x="2251" y="849" class="gl w3"/><text x="2251" y="856" class="k km tb">S5<tspan class="s" dy="4">p</tspan></text></g>
<g id="m4-s4"><use href="#os" x="2251" y="1021" class="gl w3"/><text x="2251" y="1028" class="k km tb">S4<tspan class="s" dy="4">p</tspan></text></g>
<g id="m4-s3"><use href="#os" x="2251" y="1191" class="gl w3"/><text x="2251" y="1198" class="k km tb">S3<tspan class="s" dy="4">p</tspan></text></g>
<g id="m4-s2"><use href="#os" x="2251" y="1361" class="gl w3"/><text x="2251" y="1368" class="k km tb">S2<tspan class="s" dy="4">p</tspan></text></g>
<g id="m4-s1"><use href="#os" x="2251" y="1509" class="gl w3"/><text x="2251" y="1516" class="k km tb">S1<tspan class="s" dy="4">p</tspan></text></g>
<g id="m4-p1"><use href="#cs" x="2177" y="1599" class="gl"/><text x="2177" y="1608" class="k km tb">P1</text></g>
<g id="m4-p2"><use href="#cs" x="2246" y="1599" class="gl"/><text x="2246" y="1608" class="k km tb">P2</text></g>
</g>
<g id="spouse-siblings">
<g id="sibling1sp"><use href="#oc" x="2464" y="2030" class="dp b"/><text x="2464" y="2036" class="k ks tp"><tspan class="u">S</tspan>ibling1<tspan class="s" dy="5">Sp</tspan></text></g>
<g id="sibling2sp"><use href="#oc" x="2658" y="2030" class="db b"/><text x="2658" y="2036" class="k ks tb"><tspan class="u">S</tspan>ibling2<tspan class="s" dy="5">Sp</tspan></text></g>
<g id="sibling3sp"><use href="#oc" x="2848" y="2030" class="dg b"/><text x="2848" y="2036" class="k ks tg"><tspan class="u">S</tspan>ibling3<tspan class="s" dy="5">Sp</tspan></text></g>
<g id="sibling4sp"><use href="#oc" x="3042" y="2030" class="o b"/><text x="3042" y="2036" class="k ks tq"><tspan class="u">S</tspan>ibling4<tspan class="s" dy="5">Sp</tspan></text></g>
<g id="s-sps1"><use href="#hx" x="2562" y="1933" class="dp b"/><text x="2562" y="1943" class="k k2 tp">Sp<tspan class="s" dy="7">S1</tspan></text></g>
<g id="s-sps2"><use href="#hx" x="2753" y="1933" class="db b"/><text x="2753" y="1943" class="k k2 tb">Sp<tspan class="s" dy="7">S2</tspan></text></g>
<g id="s-sps3"><use href="#hx" x="2946" y="1933" class="dg b"/><text x="2946" y="1943" class="k k2 tg">Sp<tspan class="s" dy="7">S3</tspan></text></g>
<g id="s-sps4"><use href="#hx" x="3138" y="1933" class="o b"/><text x="3138" y="1943" class="k k2 to">Sp<tspan class="s" dy="7">S4</tspan></text></g>
<g id="s-c1s1"><use href="#cb" x="2450.5" y="2317" class="dp b"/><text x="2450.5" y="2328" class="k k3 tp">C1<tspan class="s" dy="7">S1</tspan></text></g>
<g id="s-c2s1"><use href="#cb" x="2513" y="2251" class="dp b"/><text x="2513" y="2262" class="k k3 tp">C2<tspan class="s" dy="7">S1</tspan></text></g>
<g id="s-c3s1"><use href="#cb" x="2575.5" y="2317" class="dp b"/><text x="2575.5" y="2328" class="k k3 tp">C3<tspan class="s" dy="7">S1</tspan></text></g>
<g id="s-c1s2"><use href="#cb" x="2643.5" y="2251" class="db b"/><text x="2643.5" y="2262" class="k k3 tb">C1<tspan class="s" dy="7">S2</tspan></text></g>
<g id="s-c2s2"><use href="#cb" x="2705.5" y="2317" class="db b"/><text x="2705.5" y="2328" class="k k3 tb">C2<tspan class="s" dy="7">S2</tspan></text></g>
<g id="s-c3s2"><use href="#cb" x="2768.5" y="2251" class="db b"/><text x="2768.5" y="2262" class="k k3 tb">C3<tspan class="s" dy="7">S2</tspan></text></g>
<g id="s-c1s3"><use href="#cb" x="2836" y="2317" class="dg b"/><text x="2836" y="2328" class="k k3 tg">C1<tspan class="s" dy="7">S3</tspan></text></g>
<g id="s-c2s3"><use href="#cb" x="2897" y="2251" class="dg b"/><text x="2897" y="2262" class="k k3 tg">C2<tspan class="s" dy="7">S3</tspan></text></g>
<g id="s-c3s3"><use href="#cb" x="2961" y="2317" class="dg b"/><text x="2961" y="2328" class="k k3 tg">C3<tspan class="s" dy="7">S3</tspan></text></g>
<g id="s-c1s4"><use href="#cb" x="3027" y="2251" class="o b"/><text x="3027" y="2262" class="k k3 to">C1<tspan class="s" dy="7">S4</tspan></text></g>
<g id="s-c2s4"><use href="#cb" x="3090" y="2317" class="o b"/><text x="3090" y="2328" class="k k3 to">C2<tspan class="s" dy="7">S4</tspan></text></g>
<g id="s-c3s4"><use href="#cb" x="3151.5" y="2251" class="o b"/><text x="3151.5" y="2262" class="k k3 to">C3<tspan class="s" dy="7">S4</tspan></text></g>
</g>
<g id="right-purple">
<g id="rp-s1"><use href="#oc" x="2752" y="204.5" class="lp"/><text x="2752" y="212.5" class="k k1 tp">S1<tspan class="s" dy="6">Sp</tspan></text></g>
<g id="rp-s2"><use href="#oc" x="2943" y="204.5" class="lp"/><text x="2943" y="212.5" class="k k1 tp">S2<tspan class="s" dy="6">Sp</tspan></text></g>
<g id="rp-s3"><use href="#oc" x="3135" y="204.5" class="lp"/><text x="3135" y="212.5" class="k k1 tp">S3<tspan class="s" dy="6">Sp</tspan></text></g>
<g id="rp-s4"><use href="#oc" x="3326" y="204.5" class="lp"/><text x="3326" y="212.5" class="k k1 tp">S4<tspan class="s" dy="6">Sp</tspan></text></g>
<g id="rp-sp1"><use href="#hx" x="2848" y="107.5" class="lp"/><text x="2848" y="115.5" class="k k1 tp">Sp<tspan class="s" dy="6">S1</tspan></text></g>
<g id="rp-sp2"><use href="#hx" x="3039" y="107.5" class="lp"/><text x="3039" y="115.5" class="k k1 tp">Sp<tspan class="s" dy="6">S2</tspan></text></g>
<g id="rp-sp3"><use href="#hx" x="3230" y="107.5" class="lp"/><text x="3230" y="115.5" class="k k1 tp">Sp<tspan class="s" dy="6">S3</tspan></text></g>
<g id="rp-sp4"><use href="#hx" x="3423" y="107.5" class="lp"/><text x="3423" y="115.5" class="k k1 tp">Sp<tspan class="s" dy="6">S4</tspan></text></g>
<g id="rp-p1"><use href="#cr" x="2561" y="61.5" class="lp"/><text x="2561" y="69.5" class="k k1 tp">P1<tspan class="s" dy="6">Sp</tspan></text></g>
<g id="rp-p2"><use href="#cr" x="2703" y="61.5" class="lp"/><text x="2703" y="69.5" class="k k1 tp">P2<tspan class="s" dy="6">Sp</tspan></text></g>
<g id="rp-c1s1"><use href="#cb" x="2738.5" y="424" class="lp"/><text x="2738.5" y="433" class="k k1 tp">C1<tspan class="s" dy="6">S1</tspan></text></g>
<g id="rp-c2s1"><use href="#cb" x="2800" y="491" class="lp"/><text x="2800" y="500" class="k k1 tp">C2<tspan class="s" dy="6">S1</tspan></text></g>
<g id="rp-c3s1"><use href="#cb" x="2861.5" y="424" class="lp"/><text x="2861.5" y="433" class="k k1 tp">C3<tspan class="s" dy="6">S1</tspan></text></g>
<g id="rp-c1s2"><use href="#cb" x="2930.5" y="491" class="lp"/><text x="2930.5" y="500" class="k k1 tp">C1<tspan class="s" dy="6">S2</tspan></text></g>
<g id="rp-c2s2"><use href="#cb" x="2993" y="424" class="lp"/><text x="2993" y="433" class="k k1 tp">C2<tspan class="s" dy="6">S2</tspan></text></g>
<g id="rp-c3s2"><use href="#cb" x="3056.5" y="491" class="lp"/><text x="3056.5" y="500" class="k k1 tp">C3<tspan class="s" dy="6">S2</tspan></text></g>
<g id="rp-c1s3"><use href="#cb" x="3122.5" y="424" class="lp"/><text x="3122.5" y="433" class="k k1 tp">C1<tspan class="s" dy="6">S3</tspan></text></g>
<g id="rp-c2s3"><use href="#cb" x="3183" y="491" class="lp"/><text x="3183" y="500" class="k k1 tp">C2<tspan class="s" dy="6">S3</tspan></text></g>
<g id="rp-c3s3"><use href="#cb" x="3245.5" y="424" class="lp"/><text x="3245.5" y="433" class="k k1 tp">C3<tspan class="s" dy="6">S3</tspan></text></g>
<g id="rp-c1s4"><use href="#cb" x="3312.5" y="494" class="lp"/><text x="3312.5" y="503" class="k k1 tp">C1<tspan class="s" dy="6">S4</tspan></text></g>
<g id="rp-c2s4"><use href="#cb" x="3375" y="427" class="lp"/><text x="3375" y="436" class="k k1 tp">C2<tspan class="s" dy="6">S4</tspan></text></g>
<g id="rp-c3s4"><use href="#cb" x="3438.5" y="491" class="lp"/><text x="3438.5" y="500" class="k k1 tp">C3<tspan class="s" dy="6">S4</tspan></text></g>
</g>
<g id="right-blue">
<g id="rb-s1"><use href="#oc" x="2943" y="779" class="lb"/><text x="2943" y="787" class="k k1 tb">S1<tspan class="s" dy="6">Sp</tspan></text></g>
<g id="rb-s2"><use href="#oc" x="3134.5" y="779" class="lb"/><text x="3134.5" y="787" class="k k1 tb">S2<tspan class="s" dy="6">Sp</tspan></text></g>
<g id="rb-s3"><use href="#oc" x="3328" y="779" class="lb"/><text x="3328" y="787" class="k k1 tb">S3<tspan class="s" dy="6">Sp</tspan></text></g>
<g id="rb-s4"><use href="#oc" x="3518" y="779" class="lb"/><text x="3518" y="787" class="k k1 tb">S4<tspan class="s" dy="6">Sp</tspan></text></g>
<g id="rb-sp1"><use href="#hx" x="3040" y="682" class="lb"/><text x="3040" y="690" class="k k1 tb">Sp<tspan class="s" dy="6">S1</tspan></text></g>
<g id="rb-sp2"><use href="#hx" x="3231.5" y="682" class="lb"/><text x="3231.5" y="690" class="k k1 tb">Sp<tspan class="s" dy="6">S2</tspan></text></g>
<g id="rb-sp3"><use href="#hx" x="3422.5" y="682" class="lb"/><text x="3422.5" y="690" class="k k1 tb">Sp<tspan class="s" dy="6">S3</tspan></text></g>
<g id="rb-sp4"><use href="#hx" x="3615" y="682" class="lb"/><text x="3615" y="690" class="k k1 tb">Sp<tspan class="s" dy="6">S4</tspan></text></g>
<g id="rb-p1"><use href="#cr" x="2753.5" y="636.5" class="lb"/><text x="2753.5" y="644.5" class="k k1 tb">P1<tspan class="s" dy="6">Sp</tspan></text></g>
<g id="rb-p2"><use href="#cr" x="2897" y="636.5" class="lb"/><text x="2897" y="644.5" class="k k1 tb">P2<tspan class="s" dy="6">Sp</tspan></text></g>
<g id="rb-c1s1"><use href="#cb" x="2931" y="998" class="lb"/><text x="2931" y="1007" class="k k1 tb">C1<tspan class="s" dy="6">S1</tspan></text></g>
<g id="rb-c2s1"><use href="#cb" x="2990.5" y="1066" class="lb"/><text x="2990.5" y="1075" class="k k1 tb">C2<tspan class="s" dy="6">S1</tspan></text></g>
<g id="rb-c3s1"><use href="#cb" x="3054" y="998" class="lb"/><text x="3054" y="1007" class="k k1 tb">C3<tspan class="s" dy="6">S1</tspan></text></g>
<g id="rb-c1s2"><use href="#cb" x="3124" y="1066" class="lb"/><text x="3124" y="1075" class="k k1 tb">C1<tspan class="s" dy="6">S2</tspan></text></g>
<g id="rb-c2s2"><use href="#cb" x="3186" y="998" class="lb"/><text x="3186" y="1007" class="k k1 tb">C2<tspan class="s" dy="6">S2</tspan></text></g>
<g id="rb-c3s2"><use href="#cb" x="3250" y="1066" class="lb"/><text x="3250" y="1075" class="k k1 tb">C3<tspan class="s" dy="6">S2</tspan></text></g>
<g id="rb-c1s3"><use href="#cb" x="3315" y="998" class="lb"/><text x="3315" y="1007" class="k k1 tb">C1<tspan class="s" dy="6">S3</tspan></text></g>
<g id="rb-c2s3"><use href="#cb" x="3375" y="1066" class="lb"/><text x="3375" y="1075" class="k k1 tb">C2<tspan class="s" dy="6">S3</tspan></text></g>
<g id="rb-c3s3"><use href="#cb" x="3438.5" y="998" class="lb"/><text x="3438.5" y="1007" class="k k1 tb">C3<tspan class="s" dy="6">S3</tspan></text></g>
<g id="rb-c1s4"><use href="#cb" x="3505.5" y="1069.5" class="lb"/><text x="3505.5" y="1078.5" class="k k1 tb">C1<tspan class="s" dy="6">S4</tspan></text></g>
<g id="rb-c2s4"><use href="#cb" x="3567" y="1001.5" class="lb"/><text x="3567" y="1010.5" class="k k1 tb">C2<tspan class="s" dy="6">S4</tspan></text></g>
<g id="rb-c3s4"><use href="#cb" x="3631" y="1066" class="lb"/><text x="3631" y="1075" class="k k1 tb">C3<tspan class="s" dy="6">S4</tspan></text></g>
</g>
<g id="right-green">
<g id="rg-s1"><use href="#oc" x="3135.5" y="1355" class="lg"/><text x="3135.5" y="1363" class="k k1 tg">S1<tspan class="s" dy="6">Sp</tspan></text></g>
<g id="rg-s2"><use href="#oc" x="3327" y="1355" class="lg"/><text x="3327" y="1363" class="k k1 tg">S2<tspan class="s" dy="6">Sp</tspan></text></g>
<g id="rg-s3"><use href="#oc" x="3519.5" y="1355" class="lg"/><text x="3519.5" y="1363" class="k k1 tg">S3<tspan class="s" dy="6">Sp</tspan></text></g>
<g id="rg-s4"><use href="#oc" x="3710.5" y="1355" class="lg"/><text x="3710.5" y="1363" class="k k1 tg">S4<tspan class="s" dy="6">Sp</tspan></text></g>
<g id="rg-sp1"><use href="#hx" x="3232.5" y="1258" class="lg"/><text x="3232.5" y="1266" class="k k1 tg">Sp<tspan class="s" dy="6">S1</tspan></text></g>
<g id="rg-sp2"><use href="#hx" x="3422.5" y="1258" class="lg"/><text x="3422.5" y="1266" class="k k1 tg">Sp<tspan class="s" dy="6">S2</tspan></text></g>
<g id="rg-sp3"><use href="#hx" x="3615" y="1258" class="lg"/><text x="3615" y="1266" class="k k1 tg">Sp<tspan class="s" dy="6">S3</tspan></text></g>
<g id="rg-sp4"><use href="#hx" x="3808" y="1258" class="lg"/><text x="3808" y="1266" class="k k1 tg">Sp<tspan class="s" dy="6">S4</tspan></text></g>
<g id="rg-p1"><use href="#cr" x="2944.5" y="1213" class="lg"/><text x="2944.5" y="1221" class="k k1 tg">P1<tspan class="s" dy="6">Sp</tspan></text></g>
<g id="rg-p2"><use href="#cr" x="3089" y="1213" class="lg"/><text x="3089" y="1221" class="k k1 tg">P2<tspan class="s" dy="6">Sp</tspan></text></g>
<g id="rg-c1s1"><use href="#cb" x="3123.5" y="1574" class="lg"/><text x="3123.5" y="1583" class="k k1 tg">C1<tspan class="s" dy="6">S1</tspan></text></g>
<g id="rg-c2s1"><use href="#cb" x="3183" y="1641.5" class="lg"/><text x="3183" y="1650.5" class="k k1 tg">C2<tspan class="s" dy="6">S1</tspan></text></g>
<g id="rg-c3s1"><use href="#cb" x="3246.5" y="1574" class="lg"/><text x="3246.5" y="1583" class="k k1 tg">C3<tspan class="s" dy="6">S1</tspan></text></g>
<g id="rg-c1s2"><use href="#cb" x="3316" y="1641.5" class="lg"/><text x="3316" y="1650.5" class="k k1 tg">C1<tspan class="s" dy="6">S2</tspan></text></g>
<g id="rg-c2s2"><use href="#cb" x="3377" y="1574" class="lg"/><text x="3377" y="1583" class="k k1 tg">C2<tspan class="s" dy="6">S2</tspan></text></g>
<g id="rg-c3s2"><use href="#cb" x="3441.5" y="1641.5" class="lg"/><text x="3441.5" y="1650.5" class="k k1 tg">C3<tspan class="s" dy="6">S2</tspan></text></g>
<g id="rg-c1s3"><use href="#cb" x="3507" y="1574" class="lg"/><text x="3507" y="1583" class="k k1 tg">C1<tspan class="s" dy="6">S3</tspan></text></g>
<g id="rg-c2s3"><use href="#cb" x="3567" y="1641.5" class="lg"/><text x="3567" y="1650.5" class="k k1 tg">C2<tspan class="s" dy="6">S3</tspan></text></g>
<g id="rg-c3s3"><use href="#cb" x="3629.5" y="1574" class="lg"/><text x="3629.5" y="1583" class="k k1 tg">C3<tspan class="s" dy="6">S3</tspan></text></g>
<g id="rg-c1s4"><use href="#cb" x="3697.5" y="1645.5" class="lg"/><text x="3697.5" y="1654.5" class="k k1 tg">C1<tspan class="s" dy="6">S4</tspan></text></g>
<g id="rg-c2s4"><use href="#cb" x="3759.5" y="1578" class="lg"/><text x="3759.5" y="1587" class="k k1 tg">C2<tspan class="s" dy="6">S4</tspan></text></g>
<g id="rg-c3s4"><use href="#cb" x="3822" y="1641.5" class="lg"/><text x="3822" y="1650.5" class="k k1 tg">C3<tspan class="s" dy="6">S4</tspan></text></g>
</g>
<g id="right-orange">
<g id="ro-s1"><use href="#oc" x="3326.5" y="1933" class="o"/><text x="3326.5" y="1941" class="k k1 to">S1<tspan class="s" dy="6">Sp</tspan></text></g>
<g id="ro-s2"><use href="#oc" x="3518" y="1933" class="o"/><text x="3518" y="1941" class="k k1 to">S2<tspan class="s" dy="6">Sp</tspan></text></g>
<g id="ro-s3"><use href="#oc" x="3712" y="1933" class="o"/><text x="3712" y="1941" class="k k1 to">S3<tspan class="s" dy="6">Sp</tspan></text></g>
<g id="ro-s4"><use href="#oc" x="3902" y="1933" class="o"/><text x="3902" y="1941" class="k k1 to">S4<tspan class="s" dy="6">Sp</tspan></text></g>
<g id="ro-sp1"><use href="#hx" x="3424.5" y="1835.5" class="o"/><text x="3424.5" y="1843.5" class="k k1 to">Sp<tspan class="s" dy="6">S1</tspan></text></g>
<g id="ro-sp2"><use href="#hx" x="3614.5" y="1835.5" class="o"/><text x="3614.5" y="1843.5" class="k k1 to">Sp<tspan class="s" dy="6">S2</tspan></text></g>
<g id="ro-sp3"><use href="#hx" x="3807.5" y="1835.5" class="o"/><text x="3807.5" y="1843.5" class="k k1 to">Sp<tspan class="s" dy="6">S3</tspan></text></g>
<g id="ro-sp4"><use href="#hx" x="3999.5" y="1835.5" class="o"/><text x="3999.5" y="1843.5" class="k k1 to">Sp<tspan class="s" dy="6">S4</tspan></text></g>
<g id="ro-p1"><use href="#cr" x="3184.5" y="1789" class="o"/><text x="3184.5" y="1797" class="k k1 to">P1<tspan class="s" dy="6">Sp</tspan></text></g>
<g id="ro-p2"><use href="#cr" x="3291.5" y="1789" class="o"/><text x="3291.5" y="1797" class="k k1 to">P2<tspan class="s" dy="6">Sp</tspan></text></g>
<g id="ro-c1s1"><use href="#cb" x="3314" y="2151.5" class="o"/><text x="3314" y="2160.5" class="k k1 to">C1<tspan class="s" dy="6">S1</tspan></text></g>
<g id="ro-c2s1"><use href="#cb" x="3375" y="2219.5" class="o"/><text x="3375" y="2228.5" class="k k1 to">C2<tspan class="s" dy="6">S1</tspan></text></g>
<g id="ro-c3s1"><use href="#cb" x="3438.5" y="2151.5" class="o"/><text x="3438.5" y="2160.5" class="k k1 to">C3<tspan class="s" dy="6">S1</tspan></text></g>
<g id="ro-c1s2"><use href="#cb" x="3507" y="2219.5" class="o"/><text x="3507" y="2228.5" class="k k1 to">C1<tspan class="s" dy="6">S2</tspan></text></g>
<g id="ro-c2s2"><use href="#cb" x="3570" y="2151.5" class="o"/><text x="3570" y="2160.5" class="k k1 to">C2<tspan class="s" dy="6">S2</tspan></text></g>
<g id="ro-c3s2"><use href="#cb" x="3632" y="2219.5" class="o"/><text x="3632" y="2228.5" class="k k1 to">C3<tspan class="s" dy="6">S2</tspan></text></g>
<g id="ro-c1s3"><use href="#cb" x="3699.5" y="2151.5" class="o"/><text x="3699.5" y="2160.5" class="k k1 to">C1<tspan class="s" dy="6">S3</tspan></text></g>
<g id="ro-c2s3"><use href="#cb" x="3759.5" y="2219.5" class="o"/><text x="3759.5" y="2228.5" class="k k1 to">C2<tspan class="s" dy="6">S3</tspan></text></g>
<g id="ro-c3s3"><use href="#cb" x="3822" y="2151.5" class="o"/><text x="3822" y="2160.5" class="k k1 to">C3<tspan class="s" dy="6">S3</tspan></text></g>
<g id="ro-c1s4"><use href="#cb" x="3890" y="2222.5" class="o"/><text x="3890" y="2231.5" class="k k1 to">C1<tspan class="s" dy="6">S4</tspan></text></g>
<g id="ro-c2s4"><use href="#cb" x="3951.5" y="2156" class="o"/><text x="3951.5" y="2165" class="k k1 to">C2<tspan class="s" dy="6">S4</tspan></text></g>
<g id="ro-c3s4"><use href="#cb" x="4014" y="2219.5" class="o"/><text x="4014" y="2228.5" class="k k1 to">C3<tspan class="s" dy="6">S4</tspan></text></g>
</g>
<g id="source"><text x="3830" y="2364" class="k src tk">Source:  NumbersUSA</text></g>
</svg>
